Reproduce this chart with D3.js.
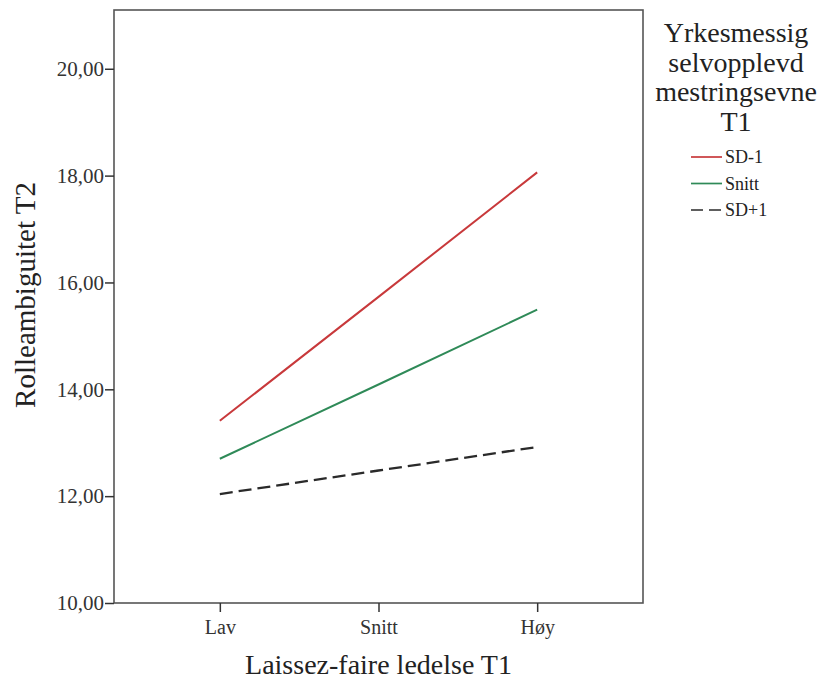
<!DOCTYPE html>
<html>
<head>
<meta charset="utf-8">
<script src="https://cdn.jsdelivr.net/npm/d3@7"></script>
<style>
  body { margin: 0; background: #fff; }
</style>
</head>
<body>
<svg id="chart" width="821" height="682"></svg>
<script>
// data
var categories = ["Lav", "Snitt", "Høy"];
var seriesNames = ["SD-1", "Snitt", "SD+1"];
var sdMinus1 = [13.41, 15.73, 18.06];
var snitt = [12.70, 14.09, 15.49];
var sdPlus1 = [12.04, 12.48, 12.92];
var yTicks = [10, 12, 14, 16, 18, 20];
var legendTitle = ["Yrkesmessig", "selvopplevd", "mestringsevne", "T1"];

var colors = ["#c8393b", "#2f8a58", "#2a2a2a"];
var dashes = [null, null, "13,6"];
var allSeries = [sdMinus1, snitt, sdPlus1];
var serif = "'Liberation Serif', 'Times New Roman', 'DejaVu Serif', serif";

var svg = d3.select("#chart");
var pLeft = 114, pRight = 643, pTop = 10, pBottom = 603;

var x = d3.scalePoint().domain(categories).range([pLeft, pRight]).padding(0.667);
var y = d3.scaleLinear().domain([10, 21.1]).range([pBottom, pTop]);

// frame
svg.append("rect")
    .attr("x", pLeft).attr("y", pTop)
    .attr("width", pRight - pLeft).attr("height", pBottom - pTop)
    .attr("fill", "none")
    .attr("stroke", "#555")
    .attr("stroke-width", 1.6);

// y axis
var yAxis = svg.append("g")
    .attr("transform", "translate(" + pLeft + ",0)")
    .call(d3.axisLeft(y).tickValues(yTicks).tickSize(9).tickPadding(1)
        .tickFormat(function (d) { return d3.format(".2f")(d).replace(".", ","); }));
yAxis.select(".domain").remove();
yAxis.selectAll("line").attr("stroke", "#333").attr("stroke-width", 1.5);
yAxis.selectAll("text").attr("font-family", serif).style("font-size", "21px").attr("fill", "#333");

// x axis
var xAxis = svg.append("g")
    .attr("transform", "translate(0," + pBottom + ")")
    .call(d3.axisBottom(x).tickSize(9).tickPadding(8));
xAxis.select(".domain").remove();
xAxis.selectAll("line").attr("stroke", "#333").attr("stroke-width", 1.5);
xAxis.selectAll("text").attr("font-family", serif).style("font-size", "20px").attr("fill", "#333");

// axis titles
svg.append("text")
    .attr("x", x("Snitt")).attr("y", 674)
    .attr("text-anchor", "middle")
    .attr("font-family", serif)
    .style("font-size", "28px")
    .attr("fill", "#222")
    .text("Laissez-faire ledelse T1");

svg.append("text")
    .attr("transform", "translate(35,295) rotate(-90)")
    .attr("text-anchor", "middle")
    .attr("font-family", serif)
    .style("font-size", "29px")
    .attr("fill", "#222")
    .text("Rolleambiguitet T2");

// lines
var line = d3.line()
    .x(function (d, i) { return x(categories[i]); })
    .y(function (d) { return y(d); });

allSeries.forEach(function (s, i) {
    svg.append("path")
        .datum(s)
        .attr("d", line)
        .attr("fill", "none")
        .attr("stroke", colors[i])
        .attr("stroke-width", i == 2 ? 2.3 : 2)
        .attr("stroke-dasharray", dashes[i]);
});

// legend
var lg = svg.append("g").attr("font-family", serif).attr("fill", "#222");
legendTitle.forEach(function (t, i) {
    lg.append("text")
        .attr("x", 736).attr("y", 42 + i * 29.5)
        .attr("text-anchor", "middle")
        .style("font-size", "28px")
        .text(t);
});
seriesNames.forEach(function (n, i) {
    var yy = 157 + i * 26.5;
    lg.append("line")
        .attr("x1", 691).attr("x2", 722)
        .attr("y1", yy).attr("y2", yy)
        .attr("stroke", colors[i])
        .attr("stroke-width", 1.7)
        .attr("stroke-dasharray", i == 2 ? "12,6" : null);
    lg.append("text")
        .attr("x", 725).attr("y", yy + 6)
        .style("font-size", "18px")
        .text(n);
});
</script>
</body>
</html>
